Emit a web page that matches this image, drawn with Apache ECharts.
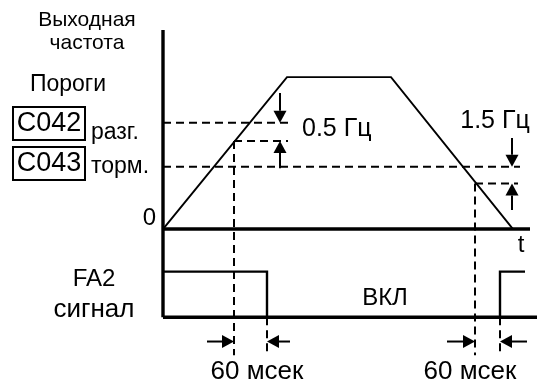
<!DOCTYPE html>
<html>
<head>
<meta charset="utf-8">
<script src="https://cdn.jsdelivr.net/npm/echarts@6/dist/echarts.min.js"></script>
<style>
  html, body { margin: 0; padding: 0; background: #fff; }
  #chart { width: 540px; height: 386px; }
</style>
</head>
<body>
<div id="chart"></div>
<script>
// Output frequency profile: time (arbitrary units) vs frequency (plateau = 10)
const profileTime = [0, 12.4, 22.8, 35.0];
const profileFreq = [0, 10, 10, 0];

// Arrival thresholds: C042 (accel), C043 (decel), and their release levels
const thresholdLevels = [7.0, 4.1];
const releaseLevels = [5.8, 3.0];
// Times where the ramp crosses the release level (accel side, decel side)
const switchTimes = [7.1, 31.2];

// FA2 output signal
const signalEdges = [10.4, 33.7];   // signal turns off / back on
const signalHigh = -2.8;
const signalLow = -5.8;
const signalEnd = 36.2;

// Axis extents
const freqAxisTop = 13.1;
const timeAxisEnd = 36.7;
const baselineEnd = 37.4;
const dashBottom = -8.3;

// Hysteresis arrows [x, fromY, toY] and delay arrows [fromX, toX]
const hystArrowX = [11.7, 34.9];
const hystArrowTail = [[8.95, 4.0], [6.0, 1.25]];
const delayArrowY = -7.4;
const delayArrowTails = [[4.4, 12.7], [28.4, 36.4]];

const FONT = "'Liberation Sans', Arial, Helvetica, sans-serif";
const series = [];

function seg(points, width, dashed) {
  series.push({
    type: 'line',
    data: points,
    symbol: 'none',
    clip: false,
    silent: true,
    lineStyle: { color: '#000', width: width, type: dashed ? [8, 5] : 'solid', cap: 'butt', join: 'miter' }
  });
}

// dashed threshold lines
seg([[0, thresholdLevels[0]], [12.5, thresholdLevels[0]]], 2, true);
seg([[switchTimes[0], releaseLevels[0]], [12.5, releaseLevels[0]]], 2, true);
seg([[0, thresholdLevels[1]], [35.7, thresholdLevels[1]]], 2, true);
seg([[switchTimes[1], releaseLevels[1]], [35.5, releaseLevels[1]]], 2, true);

// dashed timing verticals
seg([[switchTimes[0], releaseLevels[0]], [switchTimes[0], dashBottom]], 2, true);
seg([[switchTimes[1], releaseLevels[1]], [switchTimes[1], dashBottom]], 2, true);
seg([[signalEdges[0], signalLow], [signalEdges[0], dashBottom]], 2, true);
seg([[signalEdges[1], signalLow], [signalEdges[1], dashBottom]], 2, true);

// frequency profile
seg(profileTime.map((t, i) => [t, profileFreq[i]]), 1.9, false);

// FA2 signal pulses
seg([[0, signalHigh], [signalEdges[0], signalHigh], [signalEdges[0], signalLow]], 2.4, false);
seg([[signalEdges[1], signalLow], [signalEdges[1], signalHigh], [signalEnd, signalHigh]], 2.4, false);

// axes
seg([[0, freqAxisTop], [0, signalLow]], 3.4, false);
seg([[0, 0], [timeAxisEnd, 0]], 3.4, false);
seg([[0, signalLow], [baselineEnd, signalLow]], 3.4, false);

// arrows: [x1, y1, x2 (tip), y2 (tip)]
const arrowData = [
  [hystArrowX[0], hystArrowTail[0][0], hystArrowX[0], thresholdLevels[0]],
  [hystArrowX[0], hystArrowTail[0][1], hystArrowX[0], releaseLevels[0]],
  [hystArrowX[1], hystArrowTail[1][0], hystArrowX[1], thresholdLevels[1]],
  [hystArrowX[1], hystArrowTail[1][1], hystArrowX[1], releaseLevels[1]],
  [delayArrowTails[0][0], delayArrowY, switchTimes[0], delayArrowY],
  [delayArrowTails[0][1], delayArrowY, signalEdges[0], delayArrowY],
  [delayArrowTails[1][0], delayArrowY, switchTimes[1], delayArrowY],
  [delayArrowTails[1][1], delayArrowY, signalEdges[1], delayArrowY]
];

series.push({
  type: 'custom',
  silent: true,
  clip: false,
  encode: { x: [0, 2], y: [1, 3] },
  data: arrowData,
  renderItem: function (params, api) {
    const p1 = api.coord([api.value(0), api.value(1)]);
    const p2 = api.coord([api.value(2), api.value(3)]);
    const dx = p2[0] - p1[0], dy = p2[1] - p1[1];
    const len = Math.hypot(dx, dy);
    const ux = dx / len, uy = dy / len;
    const hl = 12, hw = 6.5;
    const bx = p2[0] - ux * hl, by = p2[1] - uy * hl;
    return {
      type: 'group',
      children: [
        { type: 'line', shape: { x1: p1[0], y1: p1[1], x2: bx, y2: by },
          style: { stroke: '#000', lineWidth: 2 } },
        { type: 'polygon',
          shape: { points: [[p2[0], p2[1]], [bx - uy * hw, by + ux * hw], [bx + uy * hw, by - ux * hw]] },
          style: { fill: '#000' } }
      ]
    };
  }
});

function txt(text, x, y, size, align) {
  return {
    type: 'text', x: x, y: y, silent: true,
    style: { text: text, font: size + 'px ' + FONT, fill: '#000',
             align: align || 'center', verticalAlign: 'middle' }
  };
}

const graphics = [
  txt('Выходная', 87, 20, 21),
  txt('частота', 87, 43, 21),
  txt('Пороги', 68, 85, 23),
  { type: 'rect', silent: true, shape: { x: 13, y: 107, width: 72, height: 33 },
    style: { fill: 'none', stroke: '#000', lineWidth: 2 } },
  txt('C042', 49, 124, 27),
  txt('разг.', 91, 133, 23, 'left'),
  { type: 'rect', silent: true, shape: { x: 13, y: 147, width: 72, height: 33 },
    style: { fill: 'none', stroke: '#000', lineWidth: 2 } },
  txt('C043', 49, 164, 27),
  txt('торм.', 91, 167, 23, 'left'),
  txt('0', 156, 218, 24, 'right'),
  txt('t', 521, 245, 24),
  txt('FA2', 94, 279, 24),
  txt('сигнал', 94, 310, 26),
  txt('ВКЛ', 385, 298, 24),
  txt('0.5 Гц', 302, 129, 25, 'left'),
  txt('1.5 Гц', 495, 121, 25),
  txt('60 мсек', 257, 372, 26),
  txt('60 мсек', 470, 372, 26)
];

const chart = echarts.init(document.getElementById('chart'), null, { renderer: 'canvas' });
chart.setOption({
  animation: false,
  backgroundColor: '#fff',
  grid: { left: 163, right: 0, top: 30, bottom: 30.8, containLabel: false },
  xAxis: { type: 'value', min: 0, max: 37.7, show: false },
  yAxis: { type: 'value', min: dashBottom, max: freqAxisTop, show: false },
  series: series,
  graphic: graphics
});
</script>
</body>
</html>
